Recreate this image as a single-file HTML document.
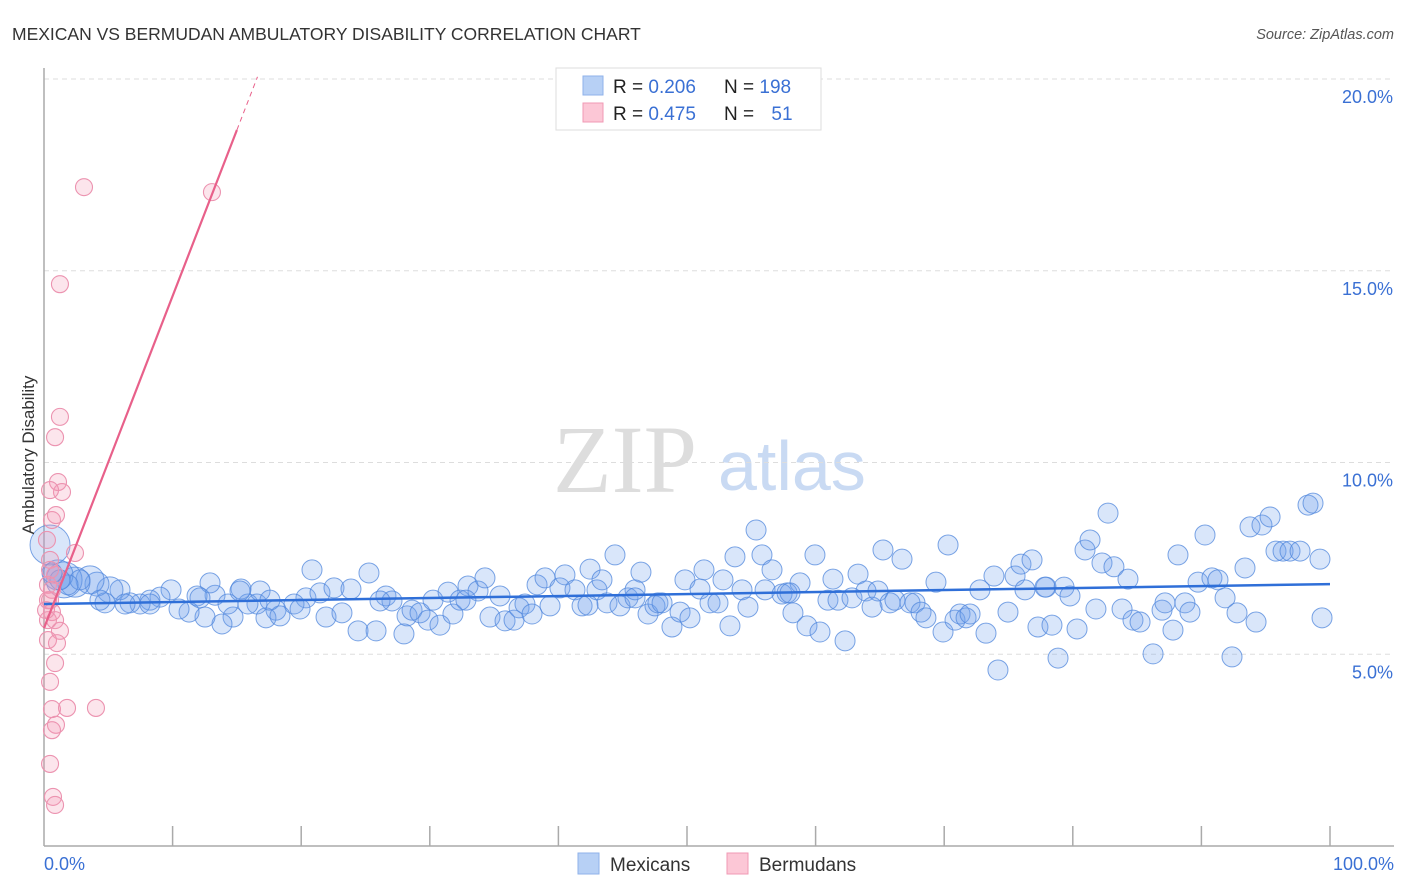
<!DOCTYPE html>
<html><head><meta charset="utf-8"><style>
body{margin:0;background:#fff;font-family:"Liberation Sans",sans-serif}
svg{display:block}
</style></head><body>
<svg id="chart" width="1406" height="892" viewBox="0 0 1406 892">
<text x="12" y="40" font-size="17.5" fill="#333">MEXICAN VS BERMUDAN AMBULATORY DISABILITY CORRELATION CHART</text>
<text x="1394" y="39" font-size="14.5" fill="#555" font-style="italic" text-anchor="end">Source: ZipAtlas.com</text>
<g>
<text x="553" y="492" font-family="Liberation Serif,serif" font-size="96" fill="#ddd">ZIP</text>
<text x="718" y="490" font-size="70" fill="#c9daf3">atlas</text>
</g>
<g id="grid"></g>
<g id="axes"></g>
<g id="pts"></g>
<g id="trend"></g>
<text transform="translate(34,455) rotate(-90)" font-size="17" fill="#333" text-anchor="middle">Ambulatory Disability</text>
<g>
<rect x="556" y="68" width="265" height="62" fill="#fff" stroke="#ddd"/>
<rect x="583" y="76" width="20" height="19" fill="#b7d0f5" stroke="#8fb2ea"/>
<rect x="583" y="103" width="20" height="19" fill="#fcc7d6" stroke="#f09ab4"/>
<text x="613" y="93" font-size="19" fill="#222">R = <tspan fill="#3a70d4">0.206</tspan></text>
<text x="724" y="93" font-size="19" fill="#222">N = <tspan fill="#3a70d4">198</tspan></text>
<text x="613" y="120" font-size="19" fill="#222">R = <tspan fill="#3a70d4">0.475</tspan></text>
<text x="724" y="120" font-size="19" fill="#222">N = <tspan fill="#3a70d4" dx="12">51</tspan></text>
</g>
<g>
<rect x="578" y="853" width="21" height="21" fill="#b7d0f5" stroke="#8fb2ea"/>
<text x="610" y="871" font-size="19" fill="#333">Mexicans</text>
<rect x="727" y="853" width="21" height="21" fill="#fcc7d6" stroke="#f09ab4"/>
<text x="759" y="871" font-size="19" fill="#333">Bermudans</text>
</g>
</svg>
<script>
const yTicks=[5,10,15,20];
const yTickLabels=["5.0%","10.0%","15.0%","20.0%"];
const xTickLabels=["0.0%","100.0%"];
const blueX=[20.84,25.27,20.37,19.44,18.04,17.26,16.56,15.86,15.32,14.7,13.84,13.3,12.52,11.9,11.28,10.5,9.88,9.02,8.24,7.47,6.69,5.91,5.13,4.74,4.12,3.58,2.41,1.56,1.09,0.47,12.91,14.31,15.24,16.8,18.35,19.91,21.46,21.93,22.55,23.17,23.87,24.42,25.82,26.59,27.06,27.99,28.23,28.62,29.24,29.86,30.25,30.79,31.42,31.8,32.35,32.97,33.75,34.29,34.68,35.46,35.85,36.55,36.94,37.4,37.95,38.34,38.96,39.35,40.12,40.51,41.29,41.84,42.46,43.0,43.39,43.78,44.4,44.79,45.41,45.96,46.42,46.97,47.51,47.74,48.06,48.83,49.46,49.84,50.23,51.01,51.32,51.79,52.41,52.8,53.34,53.73,54.28,54.74,55.37,55.83,56.07,56.61,57.39,57.78,58.24,58.79,59.33,59.95,60.34,60.96,61.35,61.74,62.29,62.83,63.3,63.92,64.39,64.85,65.24,65.79,66.17,66.72,67.34,67.73,68.2,68.58,69.36,69.91,70.3,70.84,71.23,71.7,72.01,72.78,73.25,73.87,74.18,74.96,75.51,75.97,76.28,76.83,77.29,77.92,78.38,78.85,79.32,79.78,80.33,80.95,81.34,81.8,82.27,82.74,83.2,83.83,84.29,84.68,85.23,86.24,86.94,87.17,87.79,88.18,88.72,89.11,89.74,90.28,90.82,91.29,91.84,92.38,92.77,93.39,93.78,94.25,94.71,95.34,95.8,96.35,96.89,97.67,98.29,98.68,99.22,99.38,77.84,58.01,45.96,42.3,32.81,26.13,17.57,12.13,8.24,6.3,4.35,2.8,1.87,1.24,0.62];
const blueY=[7.20,7.12,6.47,6.31,6.15,5.95,6.31,6.31,6.70,5.97,5.79,6.54,5.97,6.52,6.10,6.18,6.68,6.49,6.41,6.31,6.34,6.68,6.68,6.34,6.83,6.94,6.88,6.94,7.07,7.85,6.86,6.31,6.65,6.65,6.00,6.18,6.60,5.97,6.73,6.08,6.70,5.61,5.61,6.52,6.39,5.53,6.00,6.15,6.08,5.89,6.41,5.76,6.62,6.05,6.41,6.78,6.65,6.99,5.97,6.52,5.87,5.89,6.21,6.31,6.05,6.81,6.99,6.26,6.73,7.07,6.68,6.26,7.22,6.68,6.94,6.34,7.59,6.26,6.47,6.68,7.14,6.05,6.26,6.34,6.34,5.71,6.10,6.94,5.95,6.70,7.20,6.34,6.34,6.94,5.74,7.54,6.68,6.23,8.24,7.59,6.68,7.20,6.57,6.60,6.08,6.86,5.74,7.59,5.58,6.41,6.96,6.41,5.35,6.47,7.09,6.65,6.23,6.65,7.72,6.34,6.41,7.48,6.34,6.34,6.10,5.95,6.88,5.58,7.85,5.89,6.05,5.95,6.05,6.68,5.55,7.04,4.59,6.10,7.04,7.35,6.68,7.46,5.71,6.75,5.76,4.90,6.75,6.52,5.66,7.72,7.98,6.18,7.38,8.68,7.28,6.18,6.96,5.89,5.84,5.01,6.15,6.34,5.63,7.59,6.34,6.10,6.88,8.11,6.99,6.94,6.47,4.93,6.08,7.25,8.32,5.84,8.37,8.58,7.69,7.69,7.69,7.69,8.89,8.94,7.48,5.95,6.75,6.60,6.47,6.28,6.41,6.39,6.41,6.47,6.31,6.31,6.41,6.94,6.81,6.94,7.12];
const blueR=[10,10,10,10,10,10,10,10,10,10,10,10,10,10,10,10,10,10,10,10,10,10,13,10,12,14,15,18,15,20];
const pinkX=[3.11,13.06,1.24,1.24,0.86,1.09,1.40,0.47,0.62,0.93,0.23,2.41,0.47,0.86,0.31,0.47,0.62,0.31,0.86,1.24,0.31,1.01,0.86,0.47,0.62,1.79,4.04,0.93,0.62,0.47,0.70,0.86,0.31,0.47,0.16,0.62];
const pinkY=[17.18,17.05,14.65,11.19,10.66,9.49,9.23,9.28,8.50,8.63,7.98,7.64,7.46,7.07,6.81,6.41,6.10,5.89,5.89,5.61,5.37,5.29,4.77,4.28,3.57,3.60,3.60,3.16,3.02,2.14,1.28,1.07,6.41,7.20,6.15,6.68];
const blueTrend=[6.31,6.83];
const pinkTrend={intercept:5.68,slope:0.866,solidEnd:15,dashEnd:16.6};
const NS="http://www.w3.org/2000/svg";
const X0=44,X1=1330,Y0=846,PX=38.35;
const sx=v=>X0+(X1-X0)*v/100, sy=v=>Y0-v*PX;
function mk(tag,attrs,parent){const e=document.createElementNS(NS,tag);for(const k in attrs)e.setAttribute(k,attrs[k]);parent.appendChild(e);return e;}
const grid=document.getElementById('grid'),axes=document.getElementById('axes'),pts=document.getElementById('pts'),trend=document.getElementById('trend');
yTicks.forEach((t,i)=>{
 const l=mk('line',{x1:X0,x2:1394,y1:sy(t),y2:sy(t),stroke:'#ddd','stroke-dasharray':'5,4'},grid);
 
 
 const tx=mk('text',{x:1393,y:sy(t)+24,'font-size':18,fill:'#3a70d4','text-anchor':'end'},axes);
 tx.textContent=yTickLabels[i];
 
 
});
const ya=mk('line',{x1:X0,x2:X0,y1:68,y2:Y0,stroke:'#aaa','stroke-width':1.5},axes);


const xa=mk('line',{x1:X0,x2:1394,y1:Y0,y2:Y0,stroke:'#aaa','stroke-width':1.5},axes);


for(let i=1;i<=10;i++){
 const t=mk('line',{x1:sx(i*10),x2:sx(i*10),y1:826,y2:Y0,stroke:'#aaa','stroke-width':1.5},axes);
 
 
}
[[0,'start',X0],[1,'end',1394]].forEach(([i,a,x])=>{
 const t=mk('text',{x:x,y:870,'font-size':18,fill:'#3a70d4','text-anchor':a},axes);
 t.textContent=xTickLabels[i];
 
 
});
blueX.forEach((x,i)=>{
 const c=mk('circle',{cx:sx(x),cy:sy(blueY[i]),r:blueR[i]||10,fill:'rgba(110,160,235,0.26)',stroke:'rgba(80,135,220,0.75)','stroke-width':1},pts);
 
 
});
pinkX.forEach((x,i)=>{
 const c=mk('circle',{cx:sx(x),cy:sy(pinkY[i]),r:8.5,fill:'rgba(245,150,180,0.25)',stroke:'#ec93b0','stroke-width':1.1},pts);
 
 
});
const bl=mk('line',{x1:sx(0),y1:sy(blueTrend[0]),x2:sx(100),y2:sy(blueTrend[1]),stroke:'#2f6fd8','stroke-width':2.5},trend);


const pv=x=>pinkTrend.intercept+pinkTrend.slope*x;
const pl=mk('line',{x1:sx(0),y1:sy(pv(0)),x2:sx(pinkTrend.solidEnd),y2:sy(pv(pinkTrend.solidEnd)),stroke:'#e8608a','stroke-width':2.2},trend);


const pd=mk('line',{x1:sx(pinkTrend.solidEnd),y1:sy(pv(pinkTrend.solidEnd)),x2:sx(pinkTrend.dashEnd),y2:sy(pv(pinkTrend.dashEnd)),stroke:'#e8608a','stroke-width':1,'stroke-dasharray':'5,4'},trend);


</script>
</body></html>
